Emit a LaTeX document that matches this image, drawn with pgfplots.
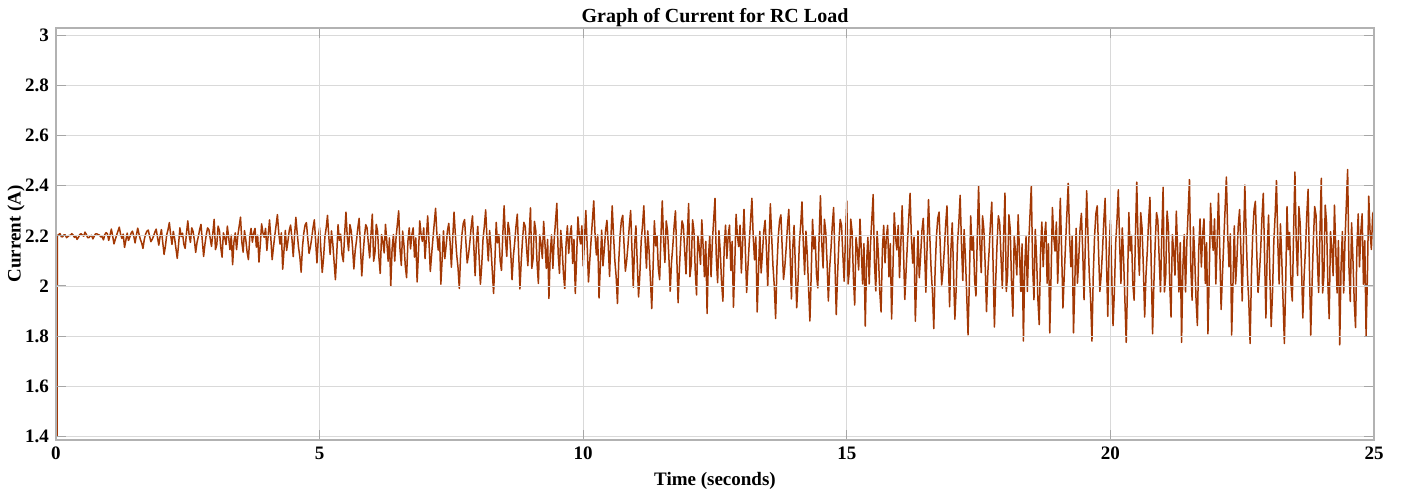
\documentclass[border=0pt]{standalone}
\usepackage{fontspec}
\setmainfont{Liberation Serif}
\usepackage{pgfplots}
\pgfplotsset{compat=1.18}
\definecolor{curr}{RGB}{163,56,4}
\begin{document}
\begin{tikzpicture}
\begin{axis}[
  scale only axis, width=659pt, height=206pt,
  xmin=0, xmax=25, ymin=1.385, ymax=3.03,
  xtick={0,5,10,15,20,25},
  ytick={1.4,1.6,1.8,2,2.2,2.4,2.6,2.8,3},
  /pgf/number format/assume math mode=true,
  tick label style={font=\fontsize{9.5}{11}\selectfont\bfseries},
  title style={font=\fontsize{10}{12}\selectfont\bfseries, at={(axis description cs:0.5,1)}, anchor=south, yshift=-9pt},
  title={Graph of Current for RC Load},
  xlabel={Time (seconds)}, ylabel={Current (A)},
  xlabel style={font=\fontsize{9.5}{11}\selectfont\bfseries, at={([yshift=-20.5pt]axis description cs:0.5,0)}, anchor=center},
  ylabel style={font=\fontsize{9.5}{11}\selectfont\bfseries, at={([xshift=-20pt]axis description cs:0,0.5)}, anchor=center, rotate=0},
  grid=major, major grid style={gray!30, line width=0.4pt},
  axis line style={gray!60, line width=0.6pt},
  tick align=inside, tick pos=both, major tick length=5pt,
  major tick style={gray!70, line width=0.5pt},
  axis on top,
]
\addplot[curr, line width=0.75pt, line join=round] coordinates {
(0.02,1.40)(0.025,2.20)(0.05,2.205)(0.075,2.209)(0.10,2.197)(0.125,2.196)(0.15,2.204)(0.175,2.204)(0.20,2.193)(0.225,2.197)(0.25,2.202)(0.275,2.202)(0.30,2.209)(0.325,2.203)(0.35,2.194)(0.375,2.199)(0.40,2.186)(0.425,2.194)(0.45,2.205)(0.475,2.209)(0.50,2.203)(0.525,2.199)(0.55,2.215)(0.575,2.206)(0.60,2.193)(0.625,2.193)(0.65,2.20)(0.675,2.202)(0.70,2.188)(0.725,2.199)(0.75,2.208)(0.775,2.208)(0.80,2.205)(0.825,2.203)(0.85,2.196)(0.875,2.197)(0.90,2.184)(0.925,2.205)(0.95,2.213)(0.975,2.208)
(1.00,2.182)(1.025,2.203)(1.05,2.227)(1.075,2.199)(1.10,2.168)(1.125,2.186)(1.15,2.203)(1.175,2.219)(1.20,2.235)(1.225,2.207)(1.25,2.190)(1.275,2.207)(1.30,2.154)(1.325,2.182)(1.35,2.211)(1.375,2.182)(1.40,2.195)(1.425,2.211)(1.45,2.219)(1.475,2.199)(1.50,2.172)(1.525,2.203)(1.55,2.231)(1.575,2.207)(1.60,2.186)(1.625,2.172)(1.65,2.150)(1.675,2.186)(1.70,2.207)(1.725,2.219)(1.75,2.223)(1.775,2.199)(1.80,2.177)(1.825,2.186)(1.85,2.199)(1.875,2.215)(1.90,2.227)(1.925,2.195)(1.95,2.163)(1.975,2.199)
(2.00,2.225)(2.025,2.174)(2.05,2.126)(2.075,2.158)(2.10,2.204)(2.125,2.225)(2.15,2.253)(2.175,2.204)(2.20,2.166)(2.225,2.218)(2.25,2.19)(2.275,2.15)(2.30,2.11)(2.325,2.166)(2.35,2.232)(2.375,2.197)(2.40,2.211)(2.425,2.166)(2.45,2.15)(2.475,2.211)(2.50,2.26)(2.525,2.204)(2.55,2.174)(2.575,2.232)(2.60,2.218)(2.625,2.182)(2.65,2.134)(2.675,2.174)(2.70,2.197)(2.725,2.225)(2.75,2.246)(2.775,2.182)(2.80,2.118)(2.825,2.166)(2.85,2.204)(2.875,2.232)(2.90,2.225)(2.925,2.19)(2.95,2.158)(2.975,2.211)
(3.00,2.266)(3.025,2.145)(3.05,2.165)(3.075,2.239)(3.10,2.221)(3.125,2.155)(3.15,2.115)(3.175,2.212)(3.20,2.194)(3.225,2.165)(3.25,2.239)(3.275,2.194)(3.30,2.145)(3.325,2.203)(3.35,2.085)(3.375,2.175)(3.40,2.212)(3.425,2.145)(3.45,2.203)(3.475,2.239)(3.50,2.275)(3.525,2.175)(3.55,2.135)(3.575,2.221)(3.60,2.185)(3.625,2.135)(3.65,2.105)(3.675,2.194)(3.70,2.23)(3.725,2.175)(3.75,2.212)(3.775,2.23)(3.80,2.155)(3.825,2.203)(3.85,2.095)(3.875,2.165)(3.90,2.248)(3.925,2.212)(3.95,2.194)(3.975,2.23)
(4.00,2.142)(4.025,2.201)(4.05,2.264)(4.075,2.191)(4.10,2.105)(4.125,2.155)(4.15,2.201)(4.175,2.243)(4.20,2.285)(4.225,2.212)(4.25,2.167)(4.275,2.212)(4.30,2.067)(4.325,2.142)(4.35,2.222)(4.375,2.142)(4.40,2.18)(4.425,2.222)(4.45,2.243)(4.475,2.191)(4.50,2.117)(4.525,2.201)(4.55,2.274)(4.575,2.212)(4.60,2.155)(4.625,2.117)(4.65,2.055)(4.675,2.155)(4.70,2.211)(4.725,2.243)(4.75,2.253)(4.775,2.191)(4.80,2.13)(4.825,2.155)(4.85,2.19)(4.875,2.232)(4.90,2.264)(4.925,2.18)(4.95,2.092)(4.975,2.191)
(5.00,2.232)(5.025,2.141)(5.05,2.054)(5.075,2.112)(5.10,2.195)(5.125,2.232)(5.15,2.282)(5.175,2.195)(5.20,2.126)(5.225,2.22)(5.25,2.17)(5.275,2.097)(5.30,2.025)(5.325,2.126)(5.35,2.245)(5.375,2.182)(5.40,2.207)(5.425,2.126)(5.45,2.097)(5.475,2.207)(5.50,2.295)(5.525,2.195)(5.55,2.141)(5.575,2.245)(5.60,2.22)(5.625,2.155)(5.65,2.068)(5.675,2.141)(5.70,2.182)(5.725,2.232)(5.75,2.27)(5.775,2.155)(5.80,2.04)(5.825,2.126)(5.85,2.195)(5.875,2.245)(5.90,2.232)(5.925,2.17)(5.95,2.112)(5.975,2.207)
(6.00,2.287)(6.025,2.099)(6.05,2.132)(6.075,2.246)(6.10,2.219)(6.125,2.115)(6.15,2.05)(6.175,2.205)(6.20,2.178)(6.225,2.132)(6.25,2.246)(6.275,2.178)(6.30,2.099)(6.325,2.192)(6.35,2.0)(6.375,2.148)(6.40,2.205)(6.425,2.099)(6.45,2.192)(6.475,2.246)(6.50,2.30)(6.525,2.148)(6.55,2.082)(6.575,2.219)(6.60,2.165)(6.625,2.082)(6.65,2.033)(6.675,2.178)(6.70,2.232)(6.725,2.148)(6.75,2.205)(6.775,2.232)(6.80,2.115)(6.825,2.192)(6.85,2.016)(6.875,2.132)(6.90,2.26)(6.925,2.205)(6.95,2.178)(6.975,2.232)
(7.00,2.109)(7.025,2.19)(7.05,2.28)(7.075,2.175)(7.10,2.058)(7.125,2.126)(7.15,2.19)(7.175,2.25)(7.20,2.31)(7.225,2.205)(7.25,2.143)(7.275,2.205)(7.30,2.007)(7.325,2.109)(7.35,2.22)(7.375,2.109)(7.40,2.16)(7.425,2.22)(7.45,2.25)(7.475,2.175)(7.50,2.075)(7.525,2.19)(7.55,2.295)(7.575,2.205)(7.60,2.126)(7.625,2.075)(7.65,1.99)(7.675,2.126)(7.70,2.205)(7.725,2.25)(7.75,2.265)(7.775,2.175)(7.80,2.092)(7.825,2.126)(7.85,2.175)(7.875,2.235)(7.90,2.28)(7.925,2.16)(7.95,2.041)(7.975,2.175)
(8.00,2.238)(8.025,2.118)(8.05,2.007)(8.075,2.081)(8.10,2.188)(8.125,2.238)(8.15,2.304)(8.175,2.188)(8.20,2.10)(8.225,2.221)(8.25,2.155)(8.275,2.062)(8.30,1.97)(8.325,2.10)(8.35,2.254)(8.375,2.172)(8.40,2.205)(8.425,2.10)(8.45,2.062)(8.475,2.205)(8.50,2.32)(8.525,2.188)(8.55,2.118)(8.575,2.254)(8.60,2.221)(8.625,2.137)(8.65,2.025)(8.675,2.118)(8.70,2.172)(8.725,2.238)(8.75,2.287)(8.775,2.137)(8.80,1.988)(8.825,2.10)(8.85,2.188)(8.875,2.254)(8.90,2.238)(8.925,2.155)(8.95,2.081)(8.975,2.205)
(9.00,2.312)(9.025,2.07)(9.05,2.11)(9.075,2.258)(9.10,2.222)(9.125,2.09)(9.15,2.01)(9.175,2.204)(9.20,2.168)(9.225,2.11)(9.25,2.258)(9.275,2.168)(9.30,2.07)(9.325,2.186)(9.35,1.95)(9.375,2.13)(9.40,2.204)(9.425,2.07)(9.45,2.186)(9.475,2.258)(9.50,2.33)(9.525,2.13)(9.55,2.05)(9.575,2.222)(9.60,2.15)(9.625,2.05)(9.65,1.99)(9.675,2.168)(9.70,2.24)(9.725,2.13)(9.75,2.204)(9.775,2.24)(9.80,2.09)(9.825,2.186)(9.85,1.97)(9.875,2.11)(9.90,2.276)(9.925,2.204)(9.95,2.168)(9.975,2.24)
(10.00,2.08)(10.025,2.184)(10.05,2.301)(10.075,2.164)(10.10,2.016)(10.125,2.102)(10.15,2.184)(10.175,2.262)(10.20,2.34)(10.225,2.204)(10.25,2.124)(10.275,2.204)(10.30,1.952)(10.325,2.08)(10.35,2.223)(10.375,2.08)(10.40,2.145)(10.425,2.223)(10.45,2.262)(10.475,2.164)(10.50,2.038)(10.525,2.184)(10.55,2.32)(10.575,2.204)(10.60,2.102)(10.625,2.038)(10.65,1.93)(10.675,2.102)(10.70,2.204)(10.725,2.262)(10.75,2.282)(10.775,2.164)(10.80,2.059)(10.825,2.102)(10.85,2.164)(10.875,2.242)(10.90,2.301)(10.925,2.145)(10.95,1.995)(10.975,2.164)
(11.00,2.24)(11.025,2.094)(11.05,1.956)(11.075,2.048)(11.10,2.18)(11.125,2.24)(11.15,2.32)(11.175,2.18)(11.20,2.071)(11.225,2.22)(11.25,2.14)(11.275,2.025)(11.30,1.91)(11.325,2.071)(11.35,2.26)(11.375,2.16)(11.40,2.20)(11.425,2.071)(11.45,2.025)(11.475,2.20)(11.50,2.34)(11.525,2.18)(11.55,2.094)(11.575,2.26)(11.60,2.22)(11.625,2.117)(11.65,1.979)(11.675,2.094)(11.70,2.16)(11.725,2.24)(11.75,2.30)(11.775,2.117)(11.80,1.933)(11.825,2.071)(11.85,2.18)(11.875,2.26)(11.90,2.24)(11.925,2.14)(11.95,2.048)(11.975,2.20)
(12.00,2.329)(12.025,2.037)(12.05,2.086)(12.075,2.264)(12.10,2.221)(12.125,2.062)(12.15,1.964)(12.175,2.20)(12.20,2.157)(12.225,2.086)(12.25,2.264)(12.275,2.157)(12.30,2.037)(12.325,2.178)(12.35,1.89)(12.375,2.11)(12.40,2.20)(12.425,2.037)(12.45,2.178)(12.475,2.264)(12.50,2.35)(12.525,2.11)(12.55,2.013)(12.575,2.221)(12.60,2.135)(12.625,2.013)(12.65,1.939)(12.675,2.157)(12.70,2.243)(12.725,2.11)(12.75,2.20)(12.775,2.243)(12.80,2.062)(12.825,2.178)(12.85,1.915)(12.875,2.086)(12.90,2.286)(12.925,2.20)(12.95,2.157)(12.975,2.243)
(13.00,2.052)(13.025,2.174)(13.05,2.306)(13.075,2.152)(13.10,1.974)(13.125,2.078)(13.15,2.174)(13.175,2.262)(13.20,2.35)(13.225,2.196)(13.25,2.104)(13.275,2.196)(13.30,1.896)(13.325,2.052)(13.35,2.218)(13.375,2.052)(13.40,2.13)(13.425,2.218)(13.45,2.262)(13.475,2.152)(13.50,2.00)(13.525,2.174)(13.55,2.328)(13.575,2.196)(13.60,2.078)(13.625,2.00)(13.65,1.87)(13.675,2.078)(13.70,2.196)(13.725,2.262)(13.75,2.284)(13.775,2.152)(13.80,2.026)(13.825,2.078)(13.85,2.152)(13.875,2.24)(13.90,2.306)(13.925,2.13)(13.95,1.948)(13.975,2.152)
(14.00,2.242)(14.025,2.072)(14.05,1.913)(14.075,2.019)(14.10,2.172)(14.125,2.242)(14.15,2.336)(14.175,2.172)(14.20,2.046)(14.225,2.219)(14.25,2.125)(14.275,1.992)(14.30,1.86)(14.325,2.046)(14.35,2.266)(14.375,2.148)(14.40,2.196)(14.425,2.046)(14.45,1.992)(14.475,2.196)(14.50,2.36)(14.525,2.172)(14.55,2.072)(14.575,2.266)(14.60,2.219)(14.625,2.098)(14.65,1.94)(14.675,2.072)(14.70,2.148)(14.725,2.242)(14.75,2.313)(14.775,2.098)(14.80,1.886)(14.825,2.046)(14.85,2.172)(14.875,2.266)(14.90,2.242)(14.925,2.125)(14.95,2.019)(14.975,2.196)
(15.00,2.34)(15.025,2.008)(15.05,2.064)(15.075,2.267)(15.10,2.218)(15.125,2.036)(15.15,1.924)(15.175,2.194)(15.20,2.144)(15.225,2.064)(15.25,2.267)(15.275,2.144)(15.30,2.008)(15.325,2.169)(15.35,1.84)(15.375,2.092)(15.40,2.194)(15.425,2.008)(15.45,2.169)(15.475,2.267)(15.50,2.365)(15.525,2.092)(15.55,1.98)(15.575,2.218)(15.60,2.12)(15.625,1.98)(15.65,1.896)(15.675,2.144)(15.70,2.242)(15.725,2.092)(15.75,2.194)(15.775,2.242)(15.80,2.036)(15.825,2.169)(15.85,1.868)(15.875,2.064)(15.90,2.292)(15.925,2.194)(15.95,2.144)(15.975,2.242)
(16.00,2.033)(16.025,2.17)(16.05,2.32)(16.075,2.145)(16.10,1.946)(16.125,2.062)(16.15,2.17)(16.175,2.27)(16.20,2.37)(16.225,2.195)(16.25,2.091)(16.275,2.195)(16.30,1.859)(16.325,2.033)(16.35,2.22)(16.375,2.033)(16.40,2.12)(16.425,2.22)(16.45,2.27)(16.475,2.145)(16.50,1.975)(16.525,2.17)(16.55,2.345)(16.575,2.195)(16.60,2.062)(16.625,1.975)(16.65,1.83)(16.675,2.062)(16.70,2.195)(16.725,2.27)(16.75,2.295)(16.775,2.145)(16.80,2.004)(16.825,2.062)(16.85,2.145)(16.875,2.245)(16.90,2.32)(16.925,2.12)(16.95,1.917)(16.975,2.145)
(17.00,2.252)(17.025,2.053)(17.05,1.867)(17.075,1.991)(17.10,2.17)(17.125,2.252)(17.15,2.362)(17.175,2.17)(17.20,2.022)(17.225,2.225)(17.25,2.115)(17.275,1.96)(17.30,1.805)(17.325,2.022)(17.35,2.28)(17.375,2.142)(17.40,2.197)(17.425,2.022)(17.45,1.96)(17.475,2.197)(17.50,2.40)(17.525,2.17)(17.55,2.053)(17.575,2.28)(17.60,2.225)(17.625,2.084)(17.65,1.898)(17.675,2.053)(17.70,2.142)(17.725,2.252)(17.75,2.335)(17.775,2.084)(17.80,1.836)(17.825,2.022)(17.85,2.17)(17.875,2.28)(17.90,2.252)(17.925,2.115)(17.95,1.991)(17.975,2.197)
(18.00,2.371)(18.025,1.978)(18.05,2.044)(18.075,2.284)(18.10,2.226)(18.125,2.011)(18.15,1.879)(18.175,2.197)(18.20,2.139)(18.225,2.044)(18.25,2.284)(18.275,2.139)(18.30,1.978)(18.325,2.168)(18.35,1.78)(18.375,2.077)(18.40,2.197)(18.425,1.978)(18.45,2.168)(18.475,2.284)(18.50,2.40)(18.525,2.077)(18.55,1.945)(18.575,2.226)(18.60,2.11)(18.625,1.945)(18.65,1.846)(18.675,2.139)(18.70,2.255)(18.725,2.077)(18.75,2.197)(18.775,2.255)(18.80,2.011)(18.825,2.168)(18.85,1.813)(18.875,2.044)(18.90,2.313)(18.925,2.197)(18.95,2.139)(18.975,2.255)
(19.00,2.011)(19.025,2.17)(19.05,2.35)(19.075,2.14)(19.10,1.912)(19.125,2.044)(19.15,2.17)(19.175,2.29)(19.20,2.41)(19.225,2.20)(19.25,2.077)(19.275,2.20)(19.30,1.813)(19.325,2.011)(19.35,2.23)(19.375,2.011)(19.40,2.11)(19.425,2.23)(19.45,2.29)(19.475,2.14)(19.50,1.945)(19.525,2.17)(19.55,2.38)(19.575,2.20)(19.60,2.044)(19.625,1.945)(19.65,1.78)(19.675,2.044)(19.70,2.20)(19.725,2.29)(19.75,2.32)(19.775,2.14)(19.80,1.978)(19.825,2.044)(19.85,2.14)(19.875,2.26)(19.90,2.35)(19.925,2.11)(19.95,1.879)(19.975,2.14)
(20.00,2.262)(20.025,2.043)(20.05,1.842)(20.075,1.976)(20.10,2.171)(20.125,2.262)(20.15,2.384)(20.175,2.171)(20.20,2.01)(20.225,2.232)(20.25,2.11)(20.275,1.943)(20.30,1.775)(20.325,2.01)(20.35,2.293)(20.375,2.14)(20.40,2.202)(20.425,2.01)(20.45,1.943)(20.475,2.202)(20.50,2.415)(20.525,2.171)(20.55,2.043)(20.575,2.293)(20.60,2.232)(20.625,2.076)(20.65,1.876)(20.675,2.043)(20.70,2.14)(20.725,2.262)(20.75,2.354)(20.775,2.076)(20.80,1.809)(20.825,2.01)(20.85,2.171)(20.875,2.293)(20.90,2.262)(20.925,2.11)(20.95,1.976)(20.975,2.202)
(21.00,2.394)(21.025,1.976)(21.05,2.043)(21.075,2.299)(21.10,2.236)(21.125,2.01)(21.15,1.876)(21.175,2.205)(21.20,2.142)(21.225,2.043)(21.25,2.299)(21.275,2.142)(21.30,1.976)(21.325,2.173)(21.35,1.775)(21.375,2.076)(21.40,2.205)(21.425,1.976)(21.45,2.173)(21.475,2.299)(21.50,2.425)(21.525,2.076)(21.55,1.943)(21.575,2.236)(21.60,2.11)(21.625,1.943)(21.65,1.842)(21.675,2.142)(21.70,2.268)(21.725,2.076)(21.75,2.205)(21.775,2.268)(21.80,2.01)(21.825,2.173)(21.85,1.809)(21.875,2.043)(21.90,2.33)(21.925,2.205)(21.95,2.142)(21.975,2.268)
(22.00,2.008)(22.025,2.175)(22.05,2.37)(22.075,2.143)(22.10,1.906)(22.125,2.042)(22.15,2.175)(22.175,2.305)(22.20,2.435)(22.225,2.208)(22.25,2.076)(22.275,2.208)(22.30,1.804)(22.325,2.008)(22.35,2.24)(22.375,2.008)(22.40,2.11)(22.425,2.24)(22.45,2.305)(22.475,2.143)(22.50,1.94)(22.525,2.175)(22.55,2.403)(22.575,2.208)(22.60,2.042)(22.625,1.94)(22.65,1.77)(22.675,2.042)(22.70,2.208)(22.725,2.305)(22.75,2.338)(22.775,2.143)(22.80,1.974)(22.825,2.042)(22.85,2.143)(22.875,2.273)(22.90,2.37)(22.925,2.11)(22.95,1.872)(22.975,2.143)
(23.00,2.283)(23.025,2.042)(23.05,1.838)(23.075,1.974)(23.10,2.179)(23.125,2.283)(23.15,2.421)(23.175,2.179)(23.20,2.008)(23.225,2.248)(23.25,2.11)(23.275,1.94)(23.30,1.77)(23.325,2.008)(23.35,2.317)(23.375,2.145)(23.40,2.214)(23.425,2.008)(23.45,1.94)(23.475,2.214)(23.50,2.455)(23.525,2.179)(23.55,2.042)(23.575,2.317)(23.60,2.248)(23.625,2.076)(23.65,1.872)(23.675,2.042)(23.70,2.145)(23.725,2.283)(23.75,2.386)(23.775,2.076)(23.80,1.804)(23.825,2.008)(23.85,2.179)(23.875,2.317)(23.90,2.283)(23.925,2.11)(23.95,1.974)(23.975,2.214)
(24.00,2.43)(24.025,1.972)(24.05,2.041)(24.075,2.323)(24.10,2.252)(24.125,2.007)(24.15,1.869)(24.175,2.217)(24.20,2.146)(24.225,2.041)(24.25,2.323)(24.275,2.146)(24.30,1.972)(24.325,2.181)(24.35,1.765)(24.375,2.076)(24.40,2.217)(24.425,1.972)(24.45,2.181)(24.475,2.323)(24.50,2.465)(24.525,2.076)(24.55,1.938)(24.575,2.252)(24.60,2.11)(24.625,1.938)(24.65,1.834)(24.675,2.146)(24.70,2.288)(24.725,2.076)(24.75,2.217)(24.775,2.288)(24.80,2.007)(24.825,2.181)(24.85,1.80)(24.875,2.041)(24.90,2.359)(24.925,2.217)(24.95,2.146)(24.975,2.288)
(25.00,2.30)
};
\end{axis}
\pgfresetboundingbox
\useasboundingbox (-28pt,-27pt) rectangle (673.5pt,220pt);
\end{tikzpicture}
\end{document}
